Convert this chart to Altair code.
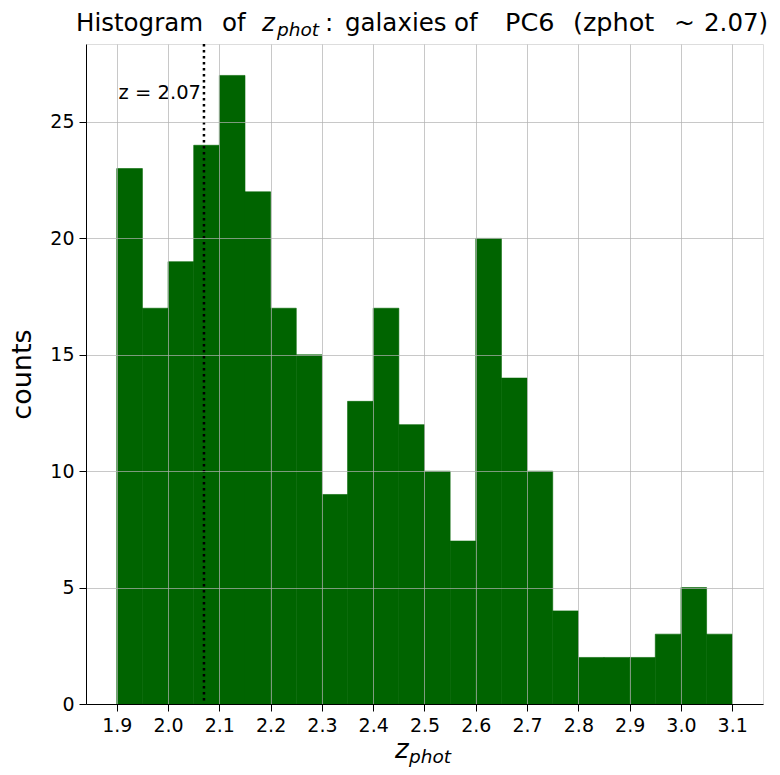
import altair as alt
import pandas as pd

# ---- data ----
bin_starts = [1.90, 1.95, 2.00, 2.05, 2.10, 2.15, 2.20, 2.25, 2.30, 2.35, 2.40, 2.45,
              2.50, 2.55, 2.60, 2.65, 2.70, 2.75, 2.80, 2.85, 2.90, 2.95, 3.00, 3.05]
bin_width = 0.05
counts = [23, 17, 19, 24, 27, 22, 17, 15, 9, 13, 17, 12,
          10, 7, 20, 14, 10, 4, 2, 2, 2, 3, 5, 3]
x_ticks = [1.9, 2.0, 2.1, 2.2, 2.3, 2.4, 2.5, 2.6, 2.7, 2.8, 2.9, 3.0, 3.1]
y_ticks = [0, 5, 10, 15, 20, 25]
z_ref = 2.07
label_y = 26

df = pd.DataFrame({
    "start": bin_starts,
    "end": [round(s + bin_width, 3) for s in bin_starts],
    "count": counts,
})

FONT = "DejaVu Sans"
W, H = 677, 660
x_scale = alt.Scale(domain=[1.84, 3.16], nice=False, zero=False)
y_scale = alt.Scale(domain=[0, 28.35], nice=False, zero=True)

axis_common = dict(grid=True, zindex=1,
                   gridColor="#b0b0b0", gridOpacity=0.7, gridWidth=1,
                   domainColor="black", tickColor="black", tickSize=7,
                   labelFontSize=19, labelFont=FONT, labelColor="black", labelPadding=5)
x_axis = alt.Axis(values=x_ticks, format=".1f", title=None, **axis_common)
y_axis = alt.Axis(values=y_ticks, title="counts", titleFont=FONT, titleFontSize=27,
                  titleFontWeight="normal", titleColor="black", titleAngle=270,
                  titleX=-56, titleY=H / 2, titleAlign="center", titleBaseline="alphabetic",
                  **axis_common)

bars = alt.Chart(df).mark_rect(color="#006400", stroke="#006400", strokeWidth=0.6).encode(
    x=alt.X("start:Q", scale=x_scale, axis=x_axis),
    x2="end:Q",
    y=alt.Y("count:Q", scale=y_scale, axis=y_axis),
    y2=alt.datum(0),
)

ref_df = pd.DataFrame({"z": [z_ref], "ly": [label_y], "txt": [f"z = {z_ref:.2f}"]})
vline = alt.Chart(ref_df).mark_rule(color="black", strokeWidth=2.5, strokeDash=[2.5, 3.5]).encode(
    x=alt.X("z:Q", scale=x_scale)
)
vlabel = alt.Chart(ref_df).mark_text(align="right", baseline="alphabetic", dx=-3,
                                     fontSize=19.5, font=FONT, color="black").encode(
    x=alt.X("z:Q", scale=x_scale),
    y=alt.Y("ly:Q", scale=y_scale),
    text="txt:N",
)


def txt(s, x, y, size, style="normal", align="left"):
    return alt.Chart(pd.DataFrame({"t": [s]})).mark_text(
        align=align, baseline="alphabetic", fontSize=size, font=FONT,
        fontStyle=style, color="black",
    ).encode(x=alt.value(x), y=alt.value(y), text="t:N")


TS = 24.5
TY = -13
title_parts = [
    txt("Histogram", -10, TY, TS),
    txt("of", 136, TY, TS),
    txt("z", 176, TY, TS, "italic"),
    txt("phot", 191, TY + 5, 18.5, "italic"),
    txt(":", 239, TY, TS),
    txt("galaxies", 259, TY, TS),
    txt("of", 368, TY, TS),
    txt("PC6", 419, TY, 25.5),
    txt("(zphot", 487, TY, 25.5),
    txt("~", 588, TY, 25),
    txt("2.07)", 618, TY, 24.5),
]

xlabel = [
    txt("z", 309, 714, 26, "italic"),
    txt("phot", 323, 719, 18.5, "italic"),
]

chart = alt.layer(bars, vline, vlabel, *title_parts, *xlabel).properties(
    width=W, height=H,
    autosize=alt.AutoSizeParams(type="none"),
    padding={"left": 78, "top": 36, "right": 9, "bottom": 63},
).configure_view(stroke="black", strokeWidth=1).configure(background="white")

chart.save("out.html", embed_options={"renderer": "svg", "actions": False})
